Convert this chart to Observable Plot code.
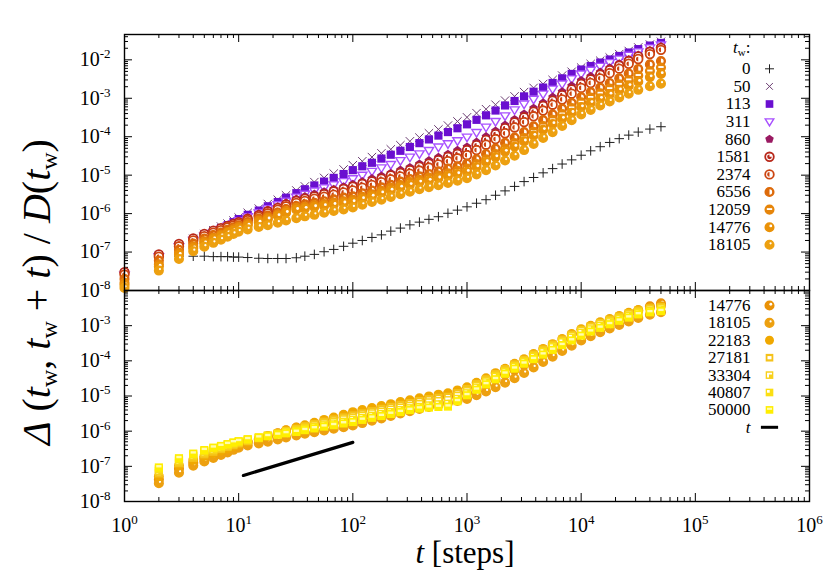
<!DOCTYPE html>
<html><head><meta charset="utf-8">
<script src="https://cdn.jsdelivr.net/npm/d3@7"></script>
<script src="https://cdn.jsdelivr.net/npm/@observablehq/plot@0.6"></script>
<style>
body{margin:0;background:#fff;}
#wrap{position:relative;width:830px;height:581px;font-family:"Liberation Serif","Times New Roman",serif;}
#wrap svg{position:absolute;left:0;top:0;}
.ttl{position:absolute;font-size:30px;white-space:nowrap;line-height:1;color:#000;}
.ttl sub{font-size:0.6em;font-style:normal;vertical-align:-0.3em;line-height:0;}
</style></head><body><div id="wrap"></div>
<script>
// ---- data ----
const T = [1,2,3,4,5,6,7,8,9,10,12,15,18,22,26,32,38,46,56,68,83,100,121,147,178,215,261,316,383,464,562,681,825,1000,1212,1468,1778,2154,2610,3162,3831,4642,5623,6813,8254,10000,12115,14678,17783,21544,26102,31623,40000,50000];

const tw0 = [null,7.8e-8,7.8e-8,7.8e-8,7.8e-8,7.6e-8,7.6e-8,7.6e-8,7.4e-8,7.4e-8,
 7.2e-8,6.9e-8,6.8e-8,6.8e-8,6.8e-8,7.1e-8,7.8e-8,8.7e-8,1.02e-7,1.17e-7,
 1.41e-7,1.7e-7,2.0e-7,2.4e-7,2.8e-7,3.5e-7,4.2e-7,5.1e-7,6.0e-7,7.1e-7,
 8.3e-7,1.02e-6,1.23e-6,1.5e-6,1.86e-6,2.3e-6,3.0e-6,3.9e-6,5.1e-6,6.8e-6,
 8.7e-6,1.15e-5,1.48e-5,1.95e-5,2.5e-5,3.3e-5,4.3e-5,5.5e-5,7.1e-5,8.9e-5,
 1.1e-4,1.32e-4,1.58e-4,1.82e-4];
const tw50 = [2.8e-8,8.3e-8,1.5e-7,2.2e-7,2.95e-7,3.7e-7,4.6e-7,5.5e-7,6.6e-7,7.9e-7,
 1.05e-6,1.35e-6,1.78e-6,2.3e-6,3.0e-6,4.0e-6,5.1e-6,6.6e-6,8.5e-6,1.1e-5,
 1.41e-5,1.82e-5,2.3e-5,2.95e-5,3.7e-5,4.7e-5,6.0e-5,7.6e-5,9.5e-5,1.23e-4,
 1.55e-4,1.95e-4,2.5e-4,3.2e-4,4.1e-4,5.2e-4,6.8e-4,8.7e-4,1.12e-3,1.45e-3,
 1.86e-3,2.35e-3,3.0e-3,3.9e-3,4.9e-3,6.3e-3,7.8e-3,9.5e-3,1.15e-2,1.41e-2,
 1.7e-2,2.1e-2,2.5e-2,2.95e-2];
const tw113 = [2.6e-8,7.9e-8,1.45e-7,2.1e-7,2.75e-7,3.5e-7,4.2e-7,5.0e-7,6.0e-7,7.2e-7,
 9.3e-7,1.2e-6,1.55e-6,2.0e-6,2.6e-6,3.4e-6,4.3e-6,5.4e-6,6.8e-6,8.5e-6,
 1.07e-5,1.35e-5,1.7e-5,2.1e-5,2.7e-5,3.4e-5,4.3e-5,5.4e-5,6.8e-5,8.5e-5,
 1.07e-4,1.32e-4,1.66e-4,2.1e-4,2.75e-4,3.6e-4,4.8e-4,6.5e-4,8.5e-4,1.12e-3,
 1.48e-3,1.9e-3,2.5e-3,3.3e-3,4.3e-3,5.6e-3,6.9e-3,8.5e-3,1.02e-2,1.26e-2,
 1.55e-2,1.9e-2,2.35e-2,2.75e-2];
const tw311 = [2.5e-8,7.6e-8,1.38e-7,2.0e-7,2.6e-7,3.2e-7,3.9e-7,4.7e-7,5.5e-7,6.6e-7,
 8.3e-7,1.05e-6,1.35e-6,1.7e-6,2.1e-6,2.7e-6,3.2e-6,3.9e-6,4.7e-6,5.6e-6,
 6.8e-6,8.1e-6,1.0e-5,1.26e-5,1.55e-5,1.9e-5,2.4e-5,2.95e-5,3.6e-5,4.4e-5,
 5.4e-5,6.6e-5,7.9e-5,9.8e-5,1.29e-4,1.78e-4,2.5e-4,3.5e-4,5.0e-4,7.1e-4,
 9.5e-4,1.29e-3,1.74e-3,2.35e-3,3.2e-3,4.3e-3,5.4e-3,6.8e-3,8.5e-3,1.05e-2,
 1.32e-2,1.62e-2,2.05e-2,2.45e-2];
const tw860 = [2.75e-8,7.9e-8,1.48e-7,2.1e-7,2.75e-7,3.4e-7,3.9e-7,4.6e-7,5.4e-7,6.2e-7,
 7.8e-7,9.8e-7,1.23e-6,1.51e-6,1.9e-6,2.4e-6,2.75e-6,3.2e-6,3.7e-6,4.3e-6,
 5.0e-6,5.8e-6,6.8e-6,8.1e-6,9.5e-6,1.12e-5,1.35e-5,1.58e-5,1.95e-5,2.4e-5,
 2.9e-5,3.5e-5,4.4e-5,5.4e-5,7.2e-5,1.0e-4,1.41e-4,2.0e-4,2.8e-4,3.9e-4,
 5.5e-4,7.6e-4,1.07e-3,1.48e-3,2.1e-3,2.9e-3,3.7e-3,4.8e-3,6.2e-3,7.9e-3,
 1.02e-2,1.32e-2,1.74e-2,2.2e-2];
const tw1581 = [3.0e-8,8.7e-8,1.62e-7,2.25e-7,2.95e-7,3.6e-7,4.2e-7,4.8e-7,5.4e-7,6.0e-7,
 7.4e-7,9.1e-7,1.15e-6,1.41e-6,1.74e-6,2.15e-6,2.45e-6,2.8e-6,3.2e-6,3.8e-6,
 4.4e-6,5.0e-6,5.9e-6,6.9e-6,8.1e-6,9.8e-6,1.15e-5,1.35e-5,1.66e-5,2.0e-5,
 2.45e-5,3.0e-5,3.6e-5,4.5e-5,6.0e-5,8.3e-5,1.17e-4,1.66e-4,2.35e-4,3.2e-4,
 4.5e-4,6.3e-4,8.7e-4,1.2e-3,1.7e-3,2.35e-3,3.1e-3,4.1e-3,5.4e-3,7.1e-3,
 9.3e-3,1.23e-2,1.62e-2,2.05e-2];
const tw2374 = [2.6e-8,7.6e-8,1.41e-7,2.0e-7,2.6e-7,3.2e-7,3.7e-7,4.4e-7,4.9e-7,5.5e-7,
 6.8e-7,8.3e-7,1.02e-6,1.26e-6,1.55e-6,1.9e-6,2.15e-6,2.45e-6,2.75e-6,3.1e-6,
 3.55e-6,4.0e-6,4.7e-6,5.6e-6,6.6e-6,7.8e-6,9.3e-6,1.1e-5,1.32e-5,1.58e-5,
 1.9e-5,2.3e-5,2.75e-5,3.3e-5,4.5e-5,6.2e-5,8.7e-5,1.23e-4,1.74e-4,2.4e-4,
 3.4e-4,4.8e-4,6.8e-4,9.3e-4,1.32e-3,1.86e-3,2.5e-3,3.3e-3,4.5e-3,5.9e-3,
 7.9e-3,1.05e-2,1.41e-2,1.82e-2];
const tw6556 = [2.0e-8,6.0e-8,1.15e-7,1.66e-7,2.25e-7,2.75e-7,3.2e-7,3.8e-7,4.4e-7,5.0e-7,
 6.0e-7,7.4e-7,8.9e-7,1.07e-6,1.32e-6,1.58e-6,1.74e-6,1.9e-6,2.1e-6,2.35e-6,
 2.6e-6,2.8e-6,3.4e-6,4.0e-6,4.8e-6,5.6e-6,6.8e-6,7.9e-6,9.3e-6,1.07e-5,
 1.26e-5,1.48e-5,1.7e-5,2.0e-5,2.6e-5,3.55e-5,4.9e-5,6.9e-5,9.5e-5,1.32e-4,
 1.86e-4,2.7e-4,3.8e-4,5.4e-4,7.6e-4,1.07e-3,1.45e-3,1.9e-3,2.5e-3,3.3e-3,
 4.4e-3,5.8e-3,7.6e-3,9.3e-3];
const tw12059 = [1.58e-8,4.8e-8,9.5e-8,1.41e-7,1.9e-7,2.35e-7,2.8e-7,3.3e-7,3.9e-7,4.5e-7,
 5.4e-7,6.6e-7,7.9e-7,9.5e-7,1.17e-6,1.41e-6,1.51e-6,1.66e-6,1.78e-6,1.95e-6,
 2.1e-6,2.3e-6,2.75e-6,3.2e-6,3.9e-6,4.7e-6,5.5e-6,6.6e-6,7.6e-6,8.7e-6,
 9.8e-6,1.12e-5,1.29e-5,1.48e-5,1.95e-5,2.6e-5,3.55e-5,4.9e-5,6.8e-5,9.3e-5,
 1.35e-4,1.9e-4,2.75e-4,3.9e-4,5.6e-4,7.9e-4,1.05e-3,1.35e-3,1.78e-3,2.3e-3,
 3.0e-3,3.9e-3,5.1e-3,6.3e-3];
const tw14776 = [1.38e-8,4.2e-8,8.5e-8,1.26e-7,1.7e-7,2.15e-7,2.6e-7,3.1e-7,3.55e-7,4.1e-7,
 4.9e-7,5.9e-7,7.1e-7,8.7e-7,1.05e-6,1.26e-6,1.35e-6,1.48e-6,1.58e-6,1.7e-6,
 1.86e-6,2.0e-6,2.4e-6,2.8e-6,3.4e-6,4.0e-6,4.8e-6,5.6e-6,6.5e-6,7.2e-6,
 8.3e-6,9.5e-6,1.07e-5,1.23e-5,1.62e-5,2.2e-5,2.95e-5,4.1e-5,5.5e-5,7.6e-5,
 1.07e-4,1.51e-4,2.15e-4,2.95e-4,4.2e-4,5.9e-4,7.6e-4,9.8e-4,1.26e-3,1.62e-3,
 2.1e-3,2.7e-3,3.55e-3,4.3e-3];
const tw18105 = [1.17e-8,3.3e-8,6.6e-8,1.05e-7,1.38e-7,1.74e-7,2.1e-7,2.5e-7,2.95e-7,3.4e-7,
 3.9e-7,4.5e-7,5.0e-7,5.8e-7,6.6e-7,7.6e-7,8.5e-7,9.3e-7,1.05e-6,1.17e-6,
 1.29e-6,1.45e-6,1.7e-6,2.0e-6,2.3e-6,2.7e-6,3.2e-6,3.7e-6,4.3e-6,4.9e-6,
 5.5e-6,6.3e-6,7.2e-6,8.3e-6,1.05e-5,1.35e-5,1.78e-5,2.4e-5,3.2e-5,4.5e-5,
 6.5e-5,9.3e-5,1.32e-4,1.9e-4,2.7e-4,3.8e-4,5.0e-4,6.5e-4,8.3e-4,1.05e-3,
 1.32e-3,1.66e-3,2.05e-3,2.4e-3];
const tw22183 = [null,5.2e-8,1.05e-7,1.51e-7,1.95e-7,2.35e-7,2.75e-7,3.2e-7,3.7e-7,4.2e-7,
 5.0e-7,6.0e-7,7.2e-7,8.7e-7,1.05e-6,1.26e-6,1.48e-6,1.74e-6,2.1e-6,2.45e-6,
 2.95e-6,3.5e-6,4.0e-6,4.6e-6,5.2e-6,5.9e-6,6.8e-6,7.6e-6,8.7e-6,9.8e-6,
 1.1e-5,1.2e-5,1.45e-5,1.78e-5,2.4e-5,3.2e-5,4.5e-5,6.0e-5,8.3e-5,1.12e-4,
 1.58e-4,2.2e-4,3.0e-4,4.2e-4,5.8e-4,7.9e-4,1.0e-3,1.26e-3,1.55e-3,1.9e-3,
 2.35e-3,2.8e-3,3.2e-3,3.6e-3];
const tw27181 = [null,6.3e-8,1.23e-7,1.74e-7,2.2e-7,2.6e-7,3.1e-7,3.55e-7,4.0e-7,4.5e-7,
 5.2e-7,6.3e-7,7.4e-7,8.7e-7,1.02e-6,1.17e-6,1.38e-6,1.58e-6,1.86e-6,2.15e-6,
 2.45e-6,2.8e-6,3.2e-6,3.7e-6,4.3e-6,4.9e-6,5.6e-6,6.3e-6,7.2e-6,8.1e-6,
 8.9e-6,9.5e-6,1.2e-5,1.58e-5,2.2e-5,3.0e-5,4.2e-5,5.8e-5,7.9e-5,1.07e-4,
 1.51e-4,2.1e-4,2.9e-4,4.0e-4,5.5e-4,7.6e-4,9.5e-4,1.2e-3,1.48e-3,1.82e-3,
 2.25e-3,2.7e-3,3.1e-3,3.4e-3];
const tw33304 = [null,7.4e-8,1.38e-7,1.95e-7,2.45e-7,2.9e-7,3.3e-7,3.8e-7,4.3e-7,4.8e-7,
 5.5e-7,6.5e-7,7.4e-7,8.5e-7,9.8e-7,1.1e-6,1.26e-6,1.45e-6,1.66e-6,1.86e-6,
 2.15e-6,2.4e-6,2.75e-6,3.2e-6,3.6e-6,4.1e-6,4.7e-6,5.2e-6,5.9e-6,6.6e-6,
 7.2e-6,7.6e-6,1.0e-5,1.38e-5,1.95e-5,2.7e-5,3.8e-5,5.2e-5,7.2e-5,1.0e-4,
 1.41e-4,1.95e-4,2.7e-4,3.7e-4,5.1e-4,7.1e-4,8.9e-4,1.12e-3,1.38e-3,1.7e-3,
 2.1e-3,2.5e-3,2.9e-3,3.2e-3];
const tw40807 = [null,8.3e-8,1.55e-7,2.15e-7,2.7e-7,3.2e-7,3.6e-7,4.1e-7,4.6e-7,5.0e-7,
 5.8e-7,6.6e-7,7.4e-7,8.3e-7,9.3e-7,1.02e-6,1.17e-6,1.32e-6,1.48e-6,1.66e-6,
 1.86e-6,2.1e-6,2.4e-6,2.75e-6,3.1e-6,3.5e-6,4.0e-6,4.5e-6,4.9e-6,5.4e-6,
 5.8e-6,6.0e-6,8.3e-6,1.2e-5,1.74e-5,2.45e-5,3.5e-5,4.8e-5,6.8e-5,9.3e-5,
 1.29e-4,1.78e-4,2.45e-4,3.4e-4,4.6e-4,6.3e-4,7.9e-4,1.0e-3,1.26e-3,1.55e-3,
 1.9e-3,2.3e-3,2.6e-3,2.9e-3];
const tw50000 = [null,9.3e-8,1.7e-7,2.3e-7,2.9e-7,3.4e-7,3.8e-7,4.3e-7,4.8e-7,5.2e-7,
 5.9e-7,6.6e-7,7.2e-7,7.9e-7,8.7e-7,9.5e-7,1.07e-6,1.2e-6,1.35e-6,1.48e-6,
 1.66e-6,1.82e-6,2.1e-6,2.4e-6,2.7e-6,3.1e-6,3.5e-6,4.0e-6,4.4e-6,4.7e-6,
 4.9e-6,5.0e-6,7.1e-6,1.05e-5,1.51e-5,2.15e-5,3.0e-5,4.3e-5,6.0e-5,8.3e-5,
 1.12e-4,1.51e-4,2.05e-4,2.8e-4,3.8e-4,5.2e-4,6.8e-4,8.7e-4,1.1e-3,1.38e-3,
 1.7e-3,2.1e-3,2.4e-3,2.6e-3];

const lineT = [11, 100];          // reference line "t"
const lineV = [5.5e-8, 4.8e-7];

const topLegend = ["0","50","113","311","860","1581","2374","6556","12059","14776","18105"];
const bottomLegend = ["14776","18105","22183","27181","33304","40807","50000"];
const xTicks = [1,10,100,1000,10000,100000,1000000];
const yTicksTop = [1e-8,1e-7,1e-6,1e-5,1e-4,1e-3,1e-2];
const yTicksBottom = [1e-8,1e-7,1e-6,1e-5,1e-4,1e-3];

const seriesValues = {"0":tw0,"50":tw50,"113":tw113,"311":tw311,"860":tw860,"1581":tw1581,"2374":tw2374,"6556":tw6556,"12059":tw12059,"14776":tw14776,"18105":tw18105,"22183":tw22183,"27181":tw27181,"33304":tw33304,"40807":tw40807,"50000":tw50000};

// ---- symbols & styles ----
const rad = s => Math.sqrt(s / Math.PI);
const S = {
  plus:{draw(c,s){const r=rad(s);c.moveTo(-r,0);c.lineTo(r,0);c.moveTo(0,-r);c.lineTo(0,r);}},
  times:{draw(c,s){const r=rad(s)*0.75;c.moveTo(-r,-r);c.lineTo(r,r);c.moveTo(-r,r);c.lineTo(r,-r);}},
  square:{draw(c,s){const r=rad(s)*0.85;c.rect(-r,-r,2*r,2*r);}},
  triDown:{draw(c,s){const r=rad(s);c.moveTo(-r*0.95,-r*0.6);c.lineTo(r*0.95,-r*0.6);c.lineTo(0,r*0.95);c.closePath();}},
  pentagon:{draw(c,s){const r=rad(s);for(let i=0;i<5;i++){const a=-Math.PI/2+i*2*Math.PI/5;const x=r*Math.cos(a),y=r*Math.sin(a);if(i)c.lineTo(x,y);else c.moveTo(x,y);}c.closePath();}},
  circle:{draw(c,s){const r=rad(s);c.moveTo(r,0);c.arc(0,0,r,0,2*Math.PI);c.closePath();}},
  sector3:{draw(c,s){const r=rad(s)*0.55;c.moveTo(0,0);c.lineTo(r,0);c.arc(0,0,r,0,1.5*Math.PI);c.closePath();}},
  halfLeft:{draw(c,s){const r=rad(s)*0.55;c.moveTo(0,-r);c.arc(0,0,r,-Math.PI/2,-1.5*Math.PI,true);c.closePath();}},
  halfRight:{draw(c,s){const r=rad(s)*0.62;c.moveTo(0,-r);c.arc(0,0,r,-Math.PI/2,Math.PI/2);c.closePath();}},
  bar:{draw(c,s){const r=rad(s)*0.62;c.rect(-r,-r*0.55,2*r,r*0.7);}},
  dotTR:{draw(c,s){const r=rad(s);const x=r*0.3,y=-r*0.3,q=r*0.33;c.moveTo(x+q,y);c.arc(x,y,q,0,2*Math.PI);}},
  dotTR2:{draw(c,s){const r=rad(s);const x=r*0.25,y=-r*0.35,q=r*0.26;c.moveTo(x+q,y);c.arc(x,y,q,0,2*Math.PI);}},
  innerSq:{draw(c,s){const r=rad(s)*0.45;c.rect(-r,-r*0.8,2*r,1.6*r);}},
  sqTL:{draw(c,s){const r=rad(s)*0.55;c.rect(-r,-r,1.1*r,1.1*r);}},
  sqL:{draw(c,s){const r=rad(s)*0.55;c.rect(-r,-r,2*r,0.8*r);c.rect(-r,-r,0.8*r,2*r);}},
  sqTop:{draw(c,s){const r=rad(s)*0.55;c.rect(-r,-r*0.9,2*r,r*0.9);}},
  hline:{draw(c,s){const r=rad(s)*2;c.moveTo(-r,0);c.lineTo(r,0);}}
};
const styleOf = {
  "0":{sym:S.plus,r:4.8,fill:"none",stroke:"#1e1e1e",sw:1},
  "50":{sym:S.times,r:5.6,fill:"none",stroke:"#6b3d72",sw:1},
  "113":{sym:S.square,r:4.8,fill:"#6a0fd0",stroke:"none"},
  "311":{sym:S.triDown,r:4.9,fill:"white",stroke:"#a850ff",sw:1.4},
  "860":{sym:S.pentagon,r:4.6,fill:"#9a1a62",stroke:"none"},
  "1581":{sym:S.circle,r:4.3,fill:"white",stroke:"#b8281a",sw:1.8,det:S.sector3,detFill:"#b8281a"},
  "2374":{sym:S.circle,r:4.3,fill:"white",stroke:"#cc4410",sw:1.8,det:S.halfLeft,detFill:"#cc4410"},
  "6556":{sym:S.circle,r:4.3,fill:"#dd6a0a",stroke:"#dd6a0a",sw:1.5,det:S.halfRight,detFill:"white"},
  "12059":{sym:S.circle,r:4.3,fill:"#e6850a",stroke:"#e6850a",sw:1.5,det:S.bar,detFill:"white"},
  "14776":{sym:S.circle,r:4.3,fill:"#ea9208",stroke:"#ea9208",sw:1.5,det:S.dotTR,detFill:"white"},
  "18105":{sym:S.circle,r:4.3,fill:"#eda010",stroke:"#eda010",sw:1.5,det:S.dotTR2,detFill:"white"},
  "22183":{sym:S.circle,r:4.9,fill:"#f0a800",stroke:"none"},
  "27181":{sym:S.square,r:4.8,fill:"#f5c21a",stroke:"none",det:S.innerSq,detFill:"white"},
  "33304":{sym:S.square,r:4.8,fill:"#f8d01a",stroke:"none",det:S.sqL,detFill:"white"},
  "40807":{sym:S.square,r:4.8,fill:"#fbdf12",stroke:"none",det:S.sqTL,detFill:"white"},
  "50000":{sym:S.square,r:4.8,fill:"#ffee00",stroke:"none",det:S.sqTop,detFill:"#fffbb0"}
};

// ---- layout ----
const W = 830, H = 581, ML = 124, MR = 21, FW = W - ML - MR;
const fmt = d => "10^" + Math.round(Math.log10(d));
function minors(lo, hi) { const out = []; for (let e = lo; e < hi; e++) for (let m = 2; m <= 9; m++) out.push(+(m + "e" + e)); return out; }

function rows(vals, skipFirst) {
  return T.map((t, i) => ({t, v: vals[i], i})).filter(d => d.v != null && !(skipFirst && d.i === 0));
}
function seriesMarks(key, skipFirst) {
  const st = styleOf[key], data = rows(seriesValues[key], skipFirst);
  const out = [Plot.dot(data, {x: "t", y: "v", symbol: st.sym, r: st.r, fill: st.fill, stroke: st.stroke, strokeWidth: st.sw || 1})];
  if (st.det) out.push(Plot.dot(data, {x: "t", y: "v", symbol: st.det, r: st.r, fill: st.detFill, stroke: "none"}));
  return out;
}
function legendMarks(list, dy0, step) {
  const out = [];
  list.forEach((key, i) => {
    const dy = dy0 + i * step, st = styleOf[key];
    out.push(Plot.text([key], {frameAnchor: "top-right", lineAnchor: "middle", dx: -59, dy, textAnchor: "end", fontSize: 17}));
    out.push(Plot.dot([key], {frameAnchor: "top-right", dx: -40, dy, symbol: st.sym, r: Math.min(st.r, 4.5), fill: st.fill, stroke: st.stroke, strokeWidth: st.sw || 1}));
    if (st.det) out.push(Plot.dot([key], {frameAnchor: "top-right", dx: -40, dy, symbol: st.det, r: Math.min(st.r, 4.5), fill: st.detFill, stroke: "none"}));
  });
  return out;
}
function tickMarks(fh, yMaj, yMin) {
  const xMin = minors(0, 6);
  return [
    Plot.tickX(xTicks, {x: d => d, insetTop: fh - 8, stroke: "black"}),
    Plot.tickX(xTicks, {x: d => d, insetBottom: fh - 8, stroke: "black"}),
    Plot.tickX(xMin, {x: d => d, insetTop: fh - 4, stroke: "black"}),
    Plot.tickX(xMin, {x: d => d, insetBottom: fh - 4, stroke: "black"}),
    Plot.tickY(yMaj, {y: d => d, insetRight: FW - 8, stroke: "black"}),
    Plot.tickY(yMaj, {y: d => d, insetLeft: FW - 8, stroke: "black"}),
    Plot.tickY(yMin, {y: d => d, insetRight: FW - 4, stroke: "black"}),
    Plot.tickY(yMin, {y: d => d, insetLeft: FW - 4, stroke: "black"})
  ];
}
const baseStyle = {fontFamily: '"Liberation Serif","Times New Roman",serif', fontSize: "20px", background: "transparent", overflow: "visible"};

// ---- top panel ----
const topMT = 34, topMB = 291, topFH = H - topMT - topMB;
const topMarks = [
  ...tickMarks(topFH, [1e-8,1e-7,1e-6,1e-5,1e-4,1e-3,1e-2], minors(-8, -2).concat([2e-2, 3e-2, 4e-2])),
  Plot.axisY({ticks: yTicksTop, tickFormat: fmt, tickSize: 0, tickPadding: 14, fontSize: 20, label: null}),
];
topLegend.forEach(k => topMarks.push(...seriesMarks(k, false)));
topMarks.push(Plot.text(["tw:"], {frameAnchor: "top-right", lineAnchor: "middle", dx: -59, dy: 13, textAnchor: "end", fontSize: 17}));
topMarks.push(...legendMarks(topLegend, 34.3, 17.6));
topMarks.push(Plot.frame({stroke: "black", strokeWidth: 1.4}));

const topPlot = Plot.plot({
  width: W, height: H, marginLeft: ML, marginRight: MR, marginTop: topMT, marginBottom: topMB,
  x: {type: "log", domain: [1, 1e6], axis: null},
  y: {type: "log", domain: [1e-8, 0.0456], axis: null},
  style: baseStyle, marks: topMarks
});

// ---- bottom panel ----
const botMT = 290, botMB = 80, botFH = H - botMT - botMB;
const botMarks = [
  ...tickMarks(botFH, [1e-8,1e-7,1e-6,1e-5,1e-4,1e-3,1e-2], minors(-8, -2)),
  Plot.axisY({ticks: yTicksBottom, tickFormat: fmt, tickSize: 0, tickPadding: 14, fontSize: 20, label: null}),
  Plot.axisX({ticks: xTicks, tickFormat: fmt, tickSize: 0, tickPadding: 16, fontSize: 20, label: null}),
];
bottomLegend.forEach(k => botMarks.push(...seriesMarks(k, true)));
botMarks.push(Plot.line(lineT.map((t, i) => ({t, v: lineV[i]})), {x: "t", y: "v", stroke: "black", strokeWidth: 3.2}));
botMarks.push(...legendMarks(bottomLegend, 15, 17.4));
botMarks.push(Plot.text(["t"], {frameAnchor: "top-right", lineAnchor: "middle", dx: -59, dy: 15 + 7 * 17.4, textAnchor: "end", fontSize: 17, fontStyle: "italic"}));
botMarks.push(Plot.dot(["t"], {frameAnchor: "top-right", dx: -40, dy: 15 + 7 * 17.4, symbol: S.hline, r: 4.3, fill: "none", stroke: "black", strokeWidth: 3}));
botMarks.push(Plot.frame({stroke: "black", strokeWidth: 1.4}));

const botPlot = Plot.plot({
  width: W, height: H, marginLeft: ML, marginRight: MR, marginTop: botMT, marginBottom: botMB,
  x: {type: "log", domain: [1, 1e6], axis: null},
  y: {type: "log", domain: [1e-8, 1e-2], axis: null},
  style: baseStyle, marks: botMarks
});

// superscript exponents in tick labels, subscript in legend title
function supify(svg) {
  d3.select(svg).selectAll("text").each(function () {
    const s = this.textContent;
    const sel = d3.select(this);
    if (s.startsWith("10^")) {
      const [b, e] = s.split("^");
      sel.text(null);
      sel.append("tspan").text(b);
      sel.append("tspan").attr("dy", -8).attr("font-size", "13px").text(e);
    } else if (s === "tw:") {
      sel.text(null);
      sel.append("tspan").attr("font-style", "italic").text("t");
      sel.append("tspan").attr("dy", 3).attr("font-size", "11px").text("w");
      sel.append("tspan").attr("dy", -3).text(":");
    }
  });
}
supify(topPlot); supify(botPlot);

const wrap = document.getElementById("wrap");
wrap.appendChild(topPlot);
wrap.appendChild(botPlot);

const yt = document.createElement("div");
yt.className = "ttl";
yt.style.fontSize = "40px";
yt.style.left = "37px"; yt.style.top = "292px"; yt.style.transform = "translate(-50%,-50%) rotate(-90deg)";
yt.innerHTML = '<i>Δ</i> (<i>t</i><sub>w</sub>, <i>t</i><sub>w</sub> + <i>t</i>) / <i>D</i>(<i>t</i><sub>w</sub>)';
wrap.appendChild(yt);
const xt = document.createElement("div");
xt.className = "ttl";
xt.style.fontSize = "31px";
xt.style.left = "465px"; xt.style.top = "552px"; xt.style.transform = "translate(-50%,-50%)";
xt.innerHTML = '<i>t</i> [steps]';
wrap.appendChild(xt);
</script></body></html>
